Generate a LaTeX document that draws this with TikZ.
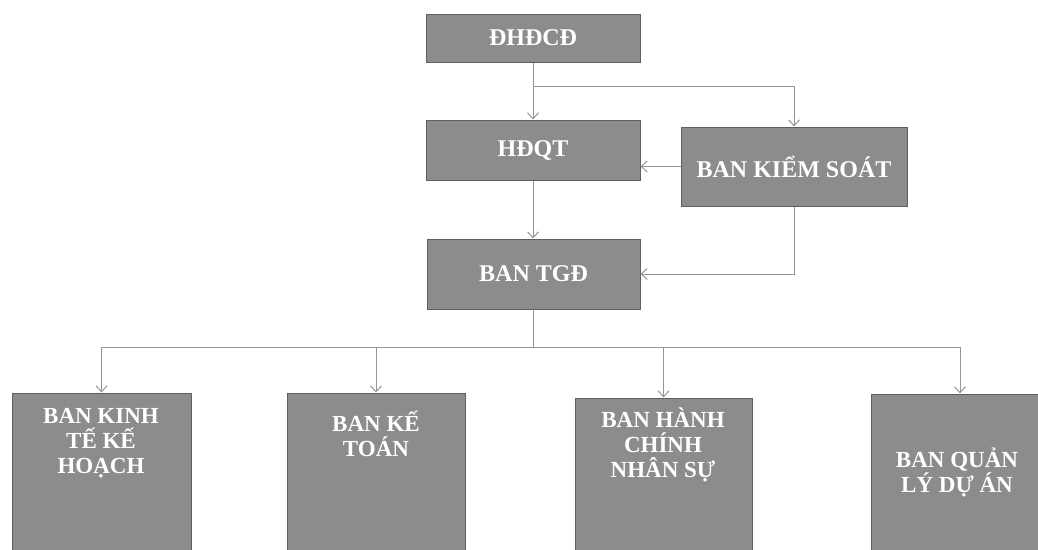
\documentclass[tikz,border=0pt]{standalone}
\usepackage{fontspec}
\setmainfont{Liberation Serif}
\usetikzlibrary{arrows.meta}
\definecolor{boxfill}{RGB}{140,140,140}
\definecolor{boxline}{RGB}{95,95,95}
\definecolor{conn}{RGB}{150,150,150}
\tikzset{
  orgbox/.style={draw=boxline, fill=boxfill, line width=1pt, inner sep=0pt,
    text=white, font=\fontsize{24}{26}\selectfont\bfseries, align=center},
  lbl/.style={text=white, font=\fontsize{23}{25}\selectfont\bfseries, align=center, inner sep=0pt},
  link/.style={draw=conn, line width=1pt},
  arr/.style={link, -{Straight Barb[length=6pt,width=11pt,line width=1pt]}}
}
\begin{document}
\begin{tikzpicture}[x=1pt,y=-1pt]
\useasboundingbox (0,0) rectangle (1038,549);
\clip (0,0) rectangle (1038,549);
% top boxes
\node[orgbox, minimum width=214pt, minimum height=48pt] (dh) at (533,38) {ĐHĐCĐ};
\node[orgbox, minimum width=214pt, minimum height=60pt] (hd) at (533,150) {HĐQT};
\node[orgbox, minimum width=226pt, minimum height=79pt] (ks) at (794,166.5) {BAN KIỂM SOÁT};
\node[orgbox, minimum width=213pt, minimum height=70pt] (tg) at (533.5,274) {BAN TGĐ};
% bottom boxes
\node[orgbox, minimum width=179pt, minimum height=170pt] (b1) at (101.5,478) {};
\node[orgbox, minimum width=178pt, minimum height=170pt] (b2) at (376,478) {};
\node[orgbox, minimum width=177pt, minimum height=170pt] (b3) at (663.5,483) {};
\node[orgbox, minimum width=178pt, minimum height=170pt] (b4) at (960,479) {};
\node[lbl] (t1) at (101,443) {BAN KINH\\TẾ KẾ\\HOẠCH};
\node[lbl] (t2) at (376,434) {BAN KẾ\\TOÁN};
\node[lbl] (t3) at (663,445) {BAN HÀNH\\CHÍNH\\NHÂN SỰ};
\node[lbl] (t4) at (957,472) {BAN QUẢN\\LÝ DỰ ÁN};
% connectors
\coordinate (split) at (533,86);
\draw[arr] (dh.south) -- (hd.north);
\draw[arr] (split) -| (ks.north);
\draw[arr] (ks.west) -- (ks.west -| hd.east);
\draw[arr] (hd.south) -- (hd.south |- tg.north);
\draw[arr] (ks.south) |- (tg.east);
\coordinate (bus) at (533.5,347);
\draw[link] (tg.south) -- (bus);
\coordinate (busL) at (101.5,347);
\coordinate (busR) at (960,347);
\draw[link] (busL) -- (busR);
\draw[arr] (busL) -- (b1.north);
\draw[arr] (bus -| b2.north) -- (b2.north);
\draw[arr] (bus -| b3.north) -- (b3.north);
\draw[arr] (busR) -- (b4.north);
\end{tikzpicture}
\end{document}
